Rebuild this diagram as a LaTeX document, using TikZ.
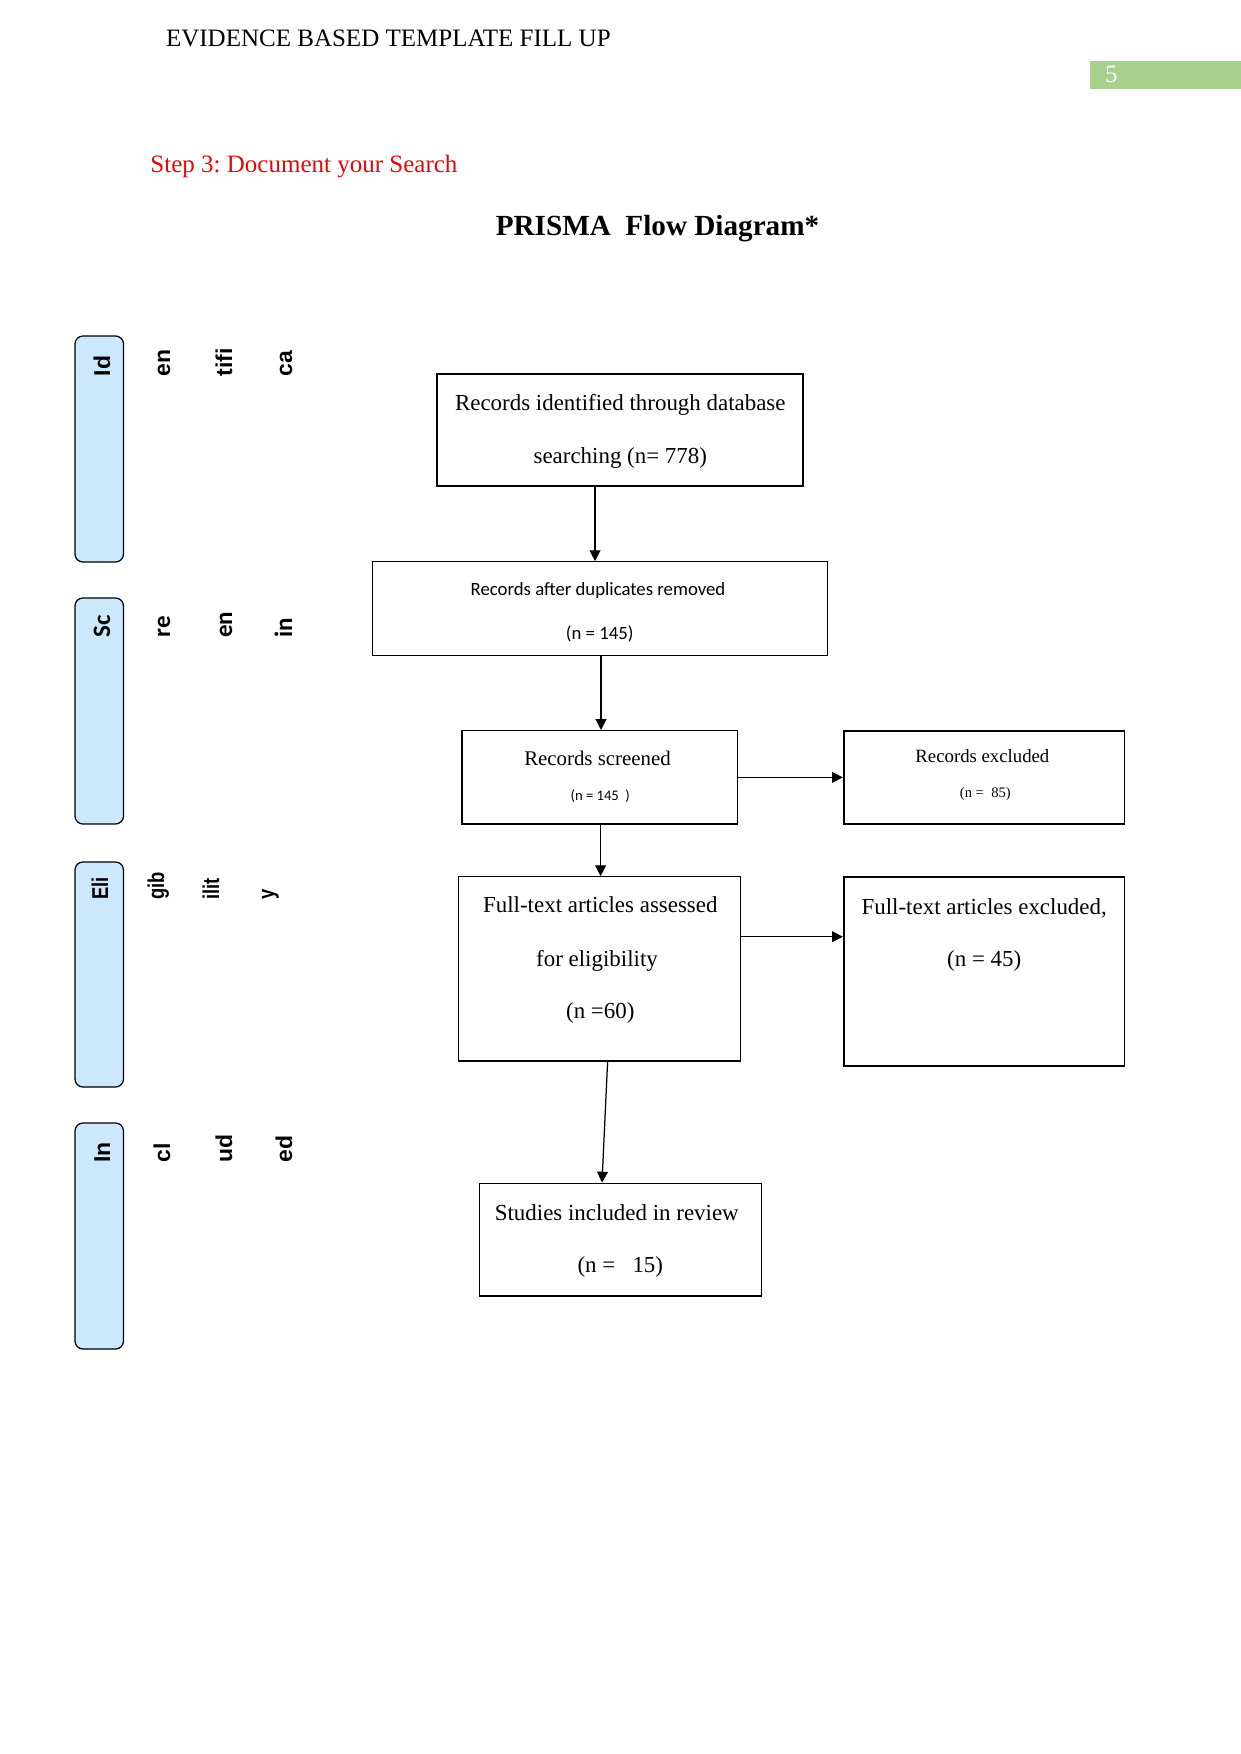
\documentclass[tikz,border=0pt]{standalone}
\usepackage{fontspec}
\setmainfont{Liberation Serif}
\newfontfamily\arialf{Liberation Sans}
\newfontfamily\arialnf[FakeStretch=0.8]{Liberation Sans}
\newfontfamily\calibf{Carlito}
\usetikzlibrary{arrows.meta,fit}
\definecolor{sidefill}{RGB}{204,232,253}
\definecolor{pagegreen}{RGB}{168,208,141}
\definecolor{stepred}{RGB}{228,8,10}
\frenchspacing
\begin{document}
\begin{tikzpicture}[x=0.4797pt,y=-0.4797pt,
  box/.style={draw, inner sep=0pt, line width=#1},
  box/.default=0.7pt,
  side/.style={draw, line width=0.6pt, fill=sidefill, rounded corners=3.8pt, inner sep=0pt},
  lbl/.style={inner sep=0pt, anchor=base},
  arr/.style={line width=0.6pt, -{Triangle[length=5.2pt,width=5.2pt]}},
  vt/.style={rotate=90, anchor=base west, inner sep=0pt, font=\arialf\bfseries\fontsize{11}{13}\selectfont},
  vtc/.style={rotate=90, anchor=base west, inner sep=0pt, font=\calibf\bfseries\fontsize{12}{14}\selectfont},
  vts/.style={rotate=90, anchor=base west, inner sep=0pt, font=\arialnf\bfseries\fontsize{11}{13}\selectfont},
  f11/.style={font=\fontsize{11}{13}\selectfont},
  f10/.style={font=\fontsize{10}{12}\selectfont},
  f9/.style={font=\fontsize{9}{11}\selectfont},
  f7/.style={font=\fontsize{7}{8}\selectfont},
  c9/.style={font=\calibf\fontsize{9}{11}\selectfont},
  c7/.style={font=\calibf\fontsize{7}{8}\selectfont}]
\useasboundingbox (0,0) rectangle (1241,1754);

% page header
\node[lbl, anchor=base west, font=\fontsize{12}{14}\selectfont] (hdr) at (165.6,47) {EVIDENCE BASED TEMPLATE FILL UP};
\node[fill=pagegreen, inner sep=0pt, fit={(1090,61.5) (1241,89.5)}] (pg) {};
\node[lbl, anchor=base west, text=white, font=\fontsize{12}{14}\selectfont] (pgn) at (1104.8,82.7) {5};
\node[lbl, anchor=base west, text=stepred, font=\fontsize{12}{14}\selectfont] (step) at (150,173) {Step 3: Document your Search};
\node[lbl, font=\bfseries\fontsize{14}{16}\selectfont] (title) at (657.5,235) {PRISMA\ \ Flow Diagram*};

% side bars
\node[side, fit={(75,336) (123.5,562)}] (s1) {};
\node[side, fit={(75,598) (123.5,824)}] (s2) {};
\node[side, fit={(75,862) (123.5,1087)}] (s3) {};
\node[side, fit={(75,1123) (123.5,1349)}] (s4) {};

\node[vt] (t1a) at (110,376.5) {Id};
\node[vt] (t1b) at (170,376.5) {en};
\node[vt] (t1c) at (232,376.5) {tifi};
\node[vt] (t1d) at (292,376.5) {ca};

\node[vtc] (t2a) at (110,638) {Sc};
\node[vtc] (t2b) at (170,638) {re};
\node[vtc] (t2c) at (232,638) {en};
\node[vtc] (t2d) at (292,638) {in};

\node[vts] (t3a) at (108,900) {Eli};
\node[vts] (t3b) at (164,900) {gib};
\node[vts] (t3c) at (219,900) {ilit};
\node[vts] (t3d) at (274,900) {y};

\node[vt] (t4a) at (110,1163) {In};
\node[vt] (t4b) at (170,1163) {cl};
\node[vt] (t4c) at (232,1163) {ud};
\node[vt] (t4d) at (292,1163) {ed};

% boxes
\node[box=0.8pt, fit={(437.3,374) (803.3,486)}] (b1) {};
\node[box=0.5pt, fit={(372.7,561.7) (827.3,655.3)}] (b2) {};
\node[box=0.7pt, fit={(462.2,730.7) (737.4,824)}] (b3) {};
\node[box=0.8pt, fit={(843.7,730.7) (1124.6,824)}] (b4) {};
\node[box=0.5pt, fit={(458.8,876.7) (740.8,1061)}] (b5) {};
\node[box=0.8pt, fit={(843.7,876.7) (1124.6,1065.7)}] (b6) {};
\node[box=0.7pt, fit={(479.3,1183.3) (761.7,1296)}] (b7) {};

% box texts
\node[lbl, f11] (b1l1) at (620.3,410) {Records identified through database};
\node[lbl, f11] (b1l2) at (620.3,463.3) {searching (n= 778)};
\node[lbl, c9] (b2l1) at (598,595.7) {Records after duplicates removed};
\node[lbl, c9] (b2l2) at (599.7,639.3) {(n = 145)};
\node[lbl, f10] (b3l1) at (597.5,765.3) {Records screened};
\node[lbl, c7] (b3l2) at (600.3,800.7) {(n = 145\ \ )};
\node[lbl, f9] (b4l1) at (982.4,762.7) {Records excluded};
\node[lbl, f7] (b4l2) at (985.3,797.3) {(n =\ \ 85)};
\node[lbl, f11] (b5l1) at (600.3,912.7) {Full-text articles assessed};
\node[lbl, f11] (b5l2) at (597,966.7) {for eligibility};
\node[lbl, f11] (b5l3) at (600.3,1018.3) {(n =60)};
\node[lbl, f11] (b6l1) at (984.2,914.3) {Full-text articles excluded,};
\node[lbl, f11] (b6l2) at (984.2,966.7) {(n = 45)};
\node[lbl, f11] (b7l1) at (616.8,1220) {Studies included in review};
\node[lbl, f11] (b7l2) at (620.3,1272.7) {(n =\ \ \ 15)};

% connectors
\coordinate (xa) at (595,0);
\coordinate (xb) at (601,0);
\coordinate (xc) at (600.6,0);
\coordinate (ya) at (0,936.7);
\coordinate (xd) at (607.6,0);
\coordinate (xe) at (602,0);
\draw[arr] (b1.south -| xa) -- (b2.north -| xa);
\draw[arr] (b2.south -| xb) -- (b3.north -| xb);
\draw[arr] (b3.east) -- (b4.west);
\draw[arr] (b3.south -| xc) -- (b5.north -| xc);
\draw[arr] (b5.east |- ya) -- (b6.west |- ya);
\draw[arr] (b5.south -| xd) -- (b7.north -| xe);
\end{tikzpicture}
\end{document}
